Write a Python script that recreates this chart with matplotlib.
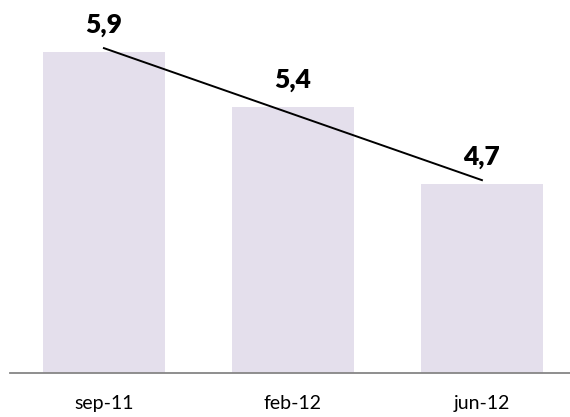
import matplotlib.pyplot as plt
import numpy as np

periodes = ['sep-11', 'feb-12', 'jun-12']
valeurs = [5.9, 5.4, 4.7]
etiquettes = ['5,9', '5,4', '4,7']

plt.rcParams['font.family'] = ['Lato', 'DejaVu Sans']

fig = plt.figure(figsize=(5.70, 4.17), dpi=100)
ax = fig.add_axes([10/570, 44/417, 560/570, 373/417])

x = np.arange(len(valeurs))
ax.bar(x, valeurs, width=0.65, color='#E4DFEC', bottom=0, zorder=2)

# tendance linéaire (comme dans Excel)
a, b = np.polyfit(x + 1, valeurs, 1)
ax.plot(x, a * (x + 1) + b, color='black', lw=1.4, zorder=3)

for xi, v, t in zip(x, valeurs, etiquettes):
    ax.annotate(t, (xi, v), xytext=(0, 11), textcoords='offset points',
                ha='center', va='bottom', fontsize=19, fontweight='heavy')

ax.set_xlim(-0.497, 2.466)
ax.set_ylim(2.98, 2.98 + 373/110)
ax.set_xticks(x)
ax.set_xticklabels(periodes, fontsize=14)
ax.tick_params(axis='x', length=0, pad=16)
ax.set_yticks([])
for s in ['top', 'right', 'left']:
    ax.spines[s].set_visible(False)
ax.spines['bottom'].set_color('#868686')
ax.spines['bottom'].set_linewidth(1.3)

fig.savefig('out.png', dpi=100)
